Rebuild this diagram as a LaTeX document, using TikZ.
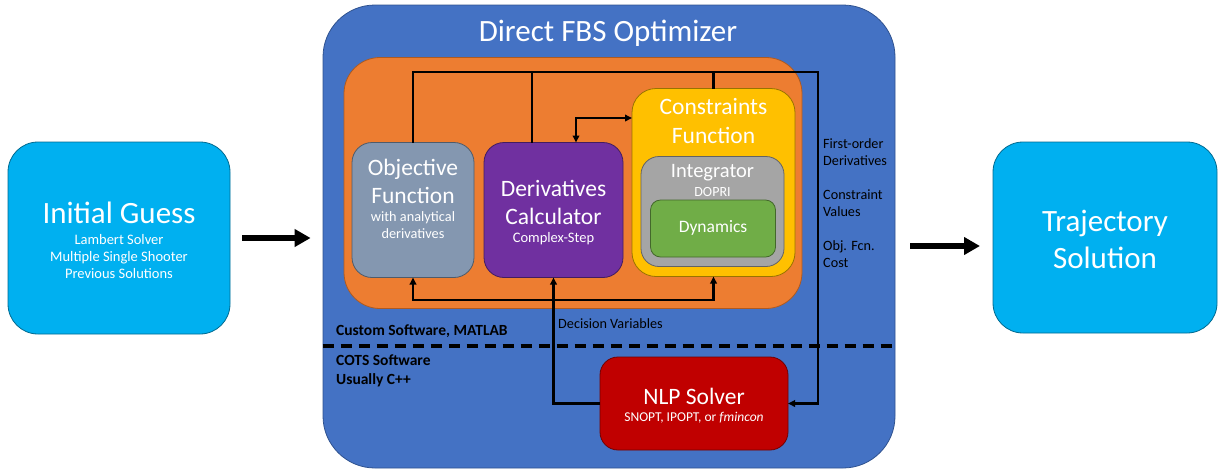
\documentclass[tikz,border=0pt]{standalone}
\usepackage{fontspec}
\setmainfont{Carlito}
\usetikzlibrary{arrows.meta,calc}
\definecolor{guessblue}{HTML}{00B0F0}
\definecolor{optblue}{HTML}{4472C4}
\definecolor{optedge}{HTML}{2F528F}
\definecolor{custorange}{HTML}{ED7D31}
\definecolor{orangeedge}{HTML}{AE5A21}
\definecolor{objgray}{HTML}{8497B0}
\definecolor{derpurple}{HTML}{7030A0}
\definecolor{conyellow}{HTML}{FFC000}
\definecolor{intgray}{HTML}{A5A5A5}
\definecolor{dyngreen}{HTML}{70AD47}
\definecolor{nlpred}{HTML}{C00000}
\newcommand\fsz[2]{\fontsize{#1}{#2}\selectfont}
\tikzset{
  x=1pt, y=-1pt,
  rbox/.style={draw=#1!60!black, line width=0.8pt, inner sep=0pt, outer sep=0pt},
  wtext/.style={text=white, align=center, inner sep=0pt},
  btext/.style={text=black, align=left, inner sep=0pt, anchor=west},
  wire/.style={line width=2.2pt, black},
  tip/.style={-{Triangle[length=7pt,width=6.5pt]}},
  bitip/.style={{Triangle[length=7pt,width=6.5pt]}-{Triangle[length=7pt,width=6.5pt]}},
  bigarrow/.style={line width=5.5pt, -{Triangle[length=16pt,width=17pt]}},
}
\begin{document}
\begin{tikzpicture}
\useasboundingbox (0,0) rectangle (1225,475);

% outer stages
\node[rbox=guessblue, fill=guessblue, rounded corners=30pt, minimum width=222pt, minimum height=192pt] (ig) at (119,238) {};
\node[draw=optedge, line width=0.8pt, fill=optblue, rounded corners=52pt, minimum width=572pt, minimum height=463pt] (opt) at (609,236.5) {};
\node[rbox=guessblue, fill=guessblue, rounded corners=30pt, minimum width=224pt, minimum height=191pt] (traj) at (1105,237.5) {};

% custom software region
\node[draw=orangeedge, line width=0.8pt, fill=custorange, rounded corners=36pt, minimum width=458pt, minimum height=251pt] (cust) at (573,183) {};
\node[rbox=objgray, fill=objgray, rounded corners=20pt, minimum width=122pt, minimum height=135pt] (obj) at (413,210) {};
\node[rbox=derpurple, fill=derpurple, rounded corners=20pt, minimum width=139pt, minimum height=135pt] (der) at (553.5,210) {};
\node[rbox=conyellow, fill=conyellow, rounded corners=24pt, minimum width=163pt, minimum height=188pt] (con) at (713.5,182.5) {};
\node[rbox=intgray, fill=intgray, rounded corners=18pt, minimum width=143pt, minimum height=110pt] (int) at (712.5,211.5) {};
\node[rbox=dyngreen, fill=dyngreen, rounded corners=10pt, minimum width=125pt, minimum height=57pt] (dyn) at (713,228.5) {};
\node[rbox=nlpred, fill=nlpred, rounded corners=18pt, minimum width=188pt, minimum height=93pt] (nlp) at (694,403.5) {};

% texts
\node[wtext, font=\fsz{31}{36}] (igT) at (119,213) {Initial Guess};
\node[wtext, font=\fsz{14.5}{17}] (igS) at (119,257) {Lambert Solver\\Multiple Single Shooter\\Previous Solutions};
\node[wtext, font=\fsz{31}{34}] (optT) at (608,33) {Direct FBS Optimizer};
\node[wtext, font=\fsz{31}{37}] (trajT) at (1105,239.5) {Trajectory\\Solution};
\node[wtext, font=\fsz{23.5}{28}] (objT) at (413,181) {Objective\\Function};
\node[wtext, font=\fsz{14.3}{17}] (objS) at (413,225.5) {with analytical\\derivatives};
\node[wtext, font=\fsz{23.5}{28}] (derT) at (553.5,202) {Derivatives\\Calculator};
\node[wtext, font=\fsz{14.5}{16}] (derS) at (553.5,239) {Complex-Step};
\node[wtext, font=\fsz{23.5}{29}] (conT) at (713.5,121) {Constraints\\Function};
\node[wtext, font=\fsz{20.5}{23}] (intT) at (712.5,173) {Integrator};
\node[wtext, font=\fsz{14}{16}] (intS) at (712.5,192) {DOPRI};
\node[wtext, font=\fsz{17.5}{19}] (dynT) at (713,228) {Dynamics};
\node[wtext, font=\fsz{23.5}{28}] (nlpT) at (694,396) {NLP Solver};
\node[wtext, font=\fsz{13.5}{16}] (nlpS) at (694,418) {SNOPT, IPOPT, or \textit{fmincon}};

\node[btext, font=\fsz{15.5}{16}\bfseries] (custL) at (336,331) {Custom Software, MATLAB};
\node[btext, font=\fsz{15.5}{19}\bfseries] (cotsL) at (336,370.5) {COTS Software\\Usually C++};
\node[btext, font=\fsz{14.2}{16}] (decL) at (558,324) {Decision Variables};
\node[btext, font=\fsz{14.2}{17}] (outL) at (823,203) {First-order\\Derivatives\\[17pt]Constraint\\Values\\[17pt]Obj. Fcn.\\Cost};

% software boundary
\draw[line width=3.2pt, dash pattern=on 11pt off 7pt] (opt.west |- 0,346) -- (opt.east |- 0,346);

% connectors
\coordinate (topR) at (818,72);
\coordinate (bot) at (0,300);
\coordinate (bi) at (576,118);
\draw[wire, tip] (obj.north) |- (topR) |- (nlp.east);
\draw[wire] ([xshift=-21.5pt]der.north) -- ([xshift=-21.5pt]der.north |- topR);
\draw[wire] (con.north) -- (con.north |- topR);
\draw[wire, bitip] (der.north -| bi) |- (bi -| con.west);
\draw[wire, bitip] (obj.south) -- (obj.south |- bot) -- (con.south |- bot) -- (con.south);
\draw[wire, tip] (nlp.west) -| (der.south);

% stage arrows
\draw[bigarrow, shorten <=12pt, shorten >=12pt] (ig.east) -- (ig.east -| opt.west);
\draw[bigarrow, shorten <=15pt, shorten >=13pt] (opt.east |- 0,246) -- (traj.west |- 0,246);
\end{tikzpicture}
\end{document}
